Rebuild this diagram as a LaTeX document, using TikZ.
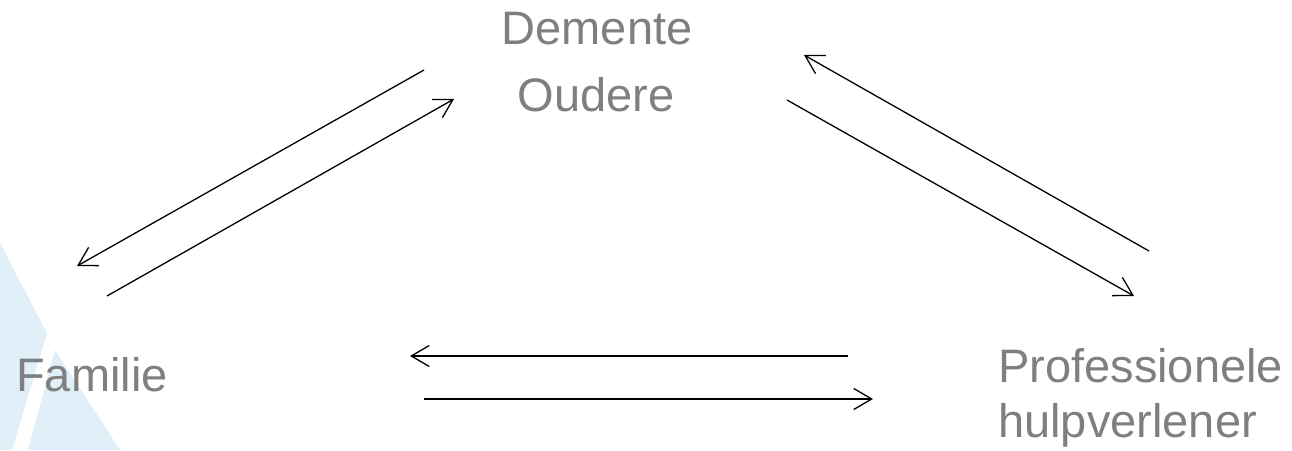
\documentclass[tikz,border=0pt]{standalone}
\usepackage{fontspec}
\setmainfont{Liberation Sans}
\usetikzlibrary{arrows.meta}
\definecolor{labelgray}{HTML}{7F7F7F}
\definecolor{bgblue}{HTML}{E1EFF9}
\tikzset{
  lbl/.style={text=labelgray, inner sep=0pt, font=\fontsize{47}{55}\selectfont},
  flow/.style={draw=black, line width=1.3pt, -{Straight Barb[length=18pt,width=21pt,line width=1.3pt]}}
}
\begin{document}
\begin{tikzpicture}[x=1pt,y=-1pt]
\useasboundingbox (0,0) rectangle (1292,450);
% background decoration
\fill[bgblue] (0,243) -- (47,333) -- (12,450) -- (0,450) -- cycle;
\fill[bgblue] (55,350) -- (120,450) -- (28,450) -- cycle;
% labels
\node[lbl, anchor=base] (dem) at (597,44) {Demente};
\node[lbl, anchor=base] (oud) at (596,111) {Oudere};
\node[lbl, anchor=base west] (fam) at (16,391) {Familie};
\node[lbl, anchor=base west] (prof) at (998,382) {Professionele};
\node[lbl, anchor=base west] (hulp) at (998,437) {hulpverlener};
% connector end points
\coordinate (a1s) at (424,70);   \coordinate (a1e) at (77,266);
\coordinate (a2s) at (107,296);  \coordinate (a2e) at (454,99);
\coordinate (a3s) at (1149,251); \coordinate (a3e) at (804,55);
\coordinate (a4s) at (787,100);  \coordinate (a4e) at (1134,296);
\coordinate (a5s) at (848,356);  \coordinate (a5e) at (410,356);
\coordinate (a6s) at (424,399);  \coordinate (a6e) at (873,399);
\draw[flow] (a1s) -- (a1e);
\draw[flow] (a2s) -- (a2e);
\draw[flow] (a3s) -- (a3e);
\draw[flow] (a4s) -- (a4e);
\draw[flow] (a5s) -- (a5e);
\draw[flow] (a6s) -- (a6e);
\end{tikzpicture}
\end{document}
